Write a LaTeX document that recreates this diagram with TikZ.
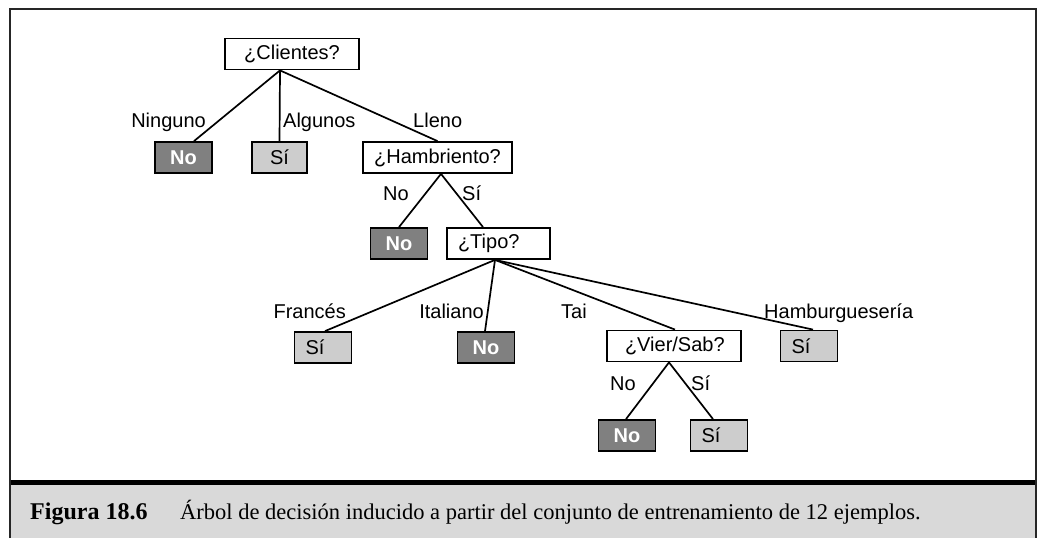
\documentclass[tikz,border=0pt]{standalone}
\usepackage{fontspec}
\setmainfont{Liberation Serif}
\newfontfamily\sansf{Liberation Sans}
\definecolor{noGray}{RGB}{128,128,128}
\definecolor{siGray}{RGB}{205,205,205}
\definecolor{capGray}{RGB}{217,217,217}
\begin{document}
\begin{tikzpicture}[x=1pt,y=-1pt,
  every node/.style={font=\sansf\fontsize{20}{24}\selectfont},
  qbox/.style={draw=black, line width=1.8pt, fill=white, inner sep=0pt, minimum height=31pt},
  sibox/.style={draw=black, line width=1.8pt, fill=siGray, inner sep=0pt, minimum height=31pt, minimum width=57pt},
  siL/.style={sibox, inner xsep=11pt, text width=35pt, align=left},
  nobox/.style={draw=black, line width=1.8pt, fill=noGray, text=white, font=\sansf\bfseries\fontsize{20}{24}\selectfont, inner sep=0pt, minimum height=31pt, minimum width=57pt},
  lbl/.style={inner sep=0pt},
  edge/.style={line width=1.7pt}]
\useasboundingbox (0,0) rectangle (1038,538);
% frame and caption band
\fill[capGray] (10,485) rectangle (1036,538);
\fill[black] (10,480) rectangle (1036,485);
\draw[line width=1.3pt, draw=black!85] (10,538) -- (10,9) -- (1036,9) -- (1036,538);
% nodes
\node[qbox, minimum width=134pt] (cli) at (292,54) {¿Clientes?};
\node[nobox] (n1) at (183.5,157.5) {No};
\node[sibox, minimum width=55pt] (s1) at (279.5,157.5) {Sí};
\node[qbox, minimum width=149pt] (ham) at (437.5,157.5) {¿Hambriento?};
\node[nobox] (n2) at (399,243.5) {No};
\node[qbox, minimum width=103pt, inner xsep=11pt, text width=81pt, align=left] (tipo) at (498.5,243.5) {¿Tipo?};
\node[siL] (s3) at (323,347.5) {Sí};
\node[nobox] (n3) at (486,347.5) {No};
\node[qbox, minimum width=134pt, inner xsep=18pt, text width=98pt, align=left] (vs) at (674,346) {¿Vier/Sab?};
\node[siL] (s4) at (809,346) {Sí};
\node[nobox] (n4) at (627,435.5) {No};
\node[siL] (s5) at (719,435.5) {Sí};
% edges
\draw[edge] ([xshift=-12pt]cli.south) -- ([xshift=10.5pt]n1.north);
\draw[edge] ([xshift=-12pt]cli.south) -- (s1.north);
\draw[edge] ([xshift=-12pt]cli.south) -- (ham.north);
\draw[edge] ([xshift=3.5pt]ham.south) -- (n2.north);
\draw[edge] ([xshift=3.5pt]ham.south) -- ([xshift=-15.5pt]tipo.north);
\draw[edge] ([xshift=-3.5pt]tipo.south) -- ([xshift=2pt]s3.north);
\draw[edge] ([xshift=-3.5pt]tipo.south) -- ([xshift=-1pt]n3.north);
\draw[edge] ([xshift=-3.5pt]tipo.south) -- ([xshift=1pt]vs.north);
\draw[edge] ([xshift=-3.5pt]tipo.south) -- ([xshift=4pt]s4.north);
\draw[edge] ([xshift=-5pt]vs.south) -- ([xshift=-1pt]n4.north);
\draw[edge] ([xshift=-5pt]vs.south) -- ([xshift=-6pt]s5.north);
% edge labels
\node[lbl, anchor=base east] (l1) at (206,127) {Ninguno};
\node[lbl, anchor=base west] (l2) at (283,127) {Algunos};
\node[lbl, anchor=base west] (l3) at (413,127) {Lleno};
\node[lbl, anchor=base east] (l4) at (409,200) {No};
\node[lbl, anchor=base west] (l5) at (462,200) {Sí};
\node[lbl, anchor=base east] (l6) at (346,318) {Francés};
\node[lbl, anchor=base east] (l7) at (484,318) {Italiano};
\node[lbl, anchor=base west] (l8) at (561,318) {Tai};
\node[lbl, anchor=base west] (l9) at (764,318) {Hamburguesería};
\node[lbl, anchor=base east] (l10) at (636,390) {No};
\node[lbl, anchor=base west] (l11) at (691,390) {Sí};
% caption
\node[inner sep=0pt, anchor=base west, font=\rmfamily\bfseries\fontsize{24}{28}\selectfont] (fig) at (30,519) {Figura 18.6};
\node[inner sep=0pt, anchor=base west, font=\rmfamily\fontsize{22.5}{27}\selectfont] (cap) at (180,519) {Árbol de decisión inducido a partir del conjunto de entrenamiento de 12 ejemplos.};
\end{tikzpicture}
\end{document}
